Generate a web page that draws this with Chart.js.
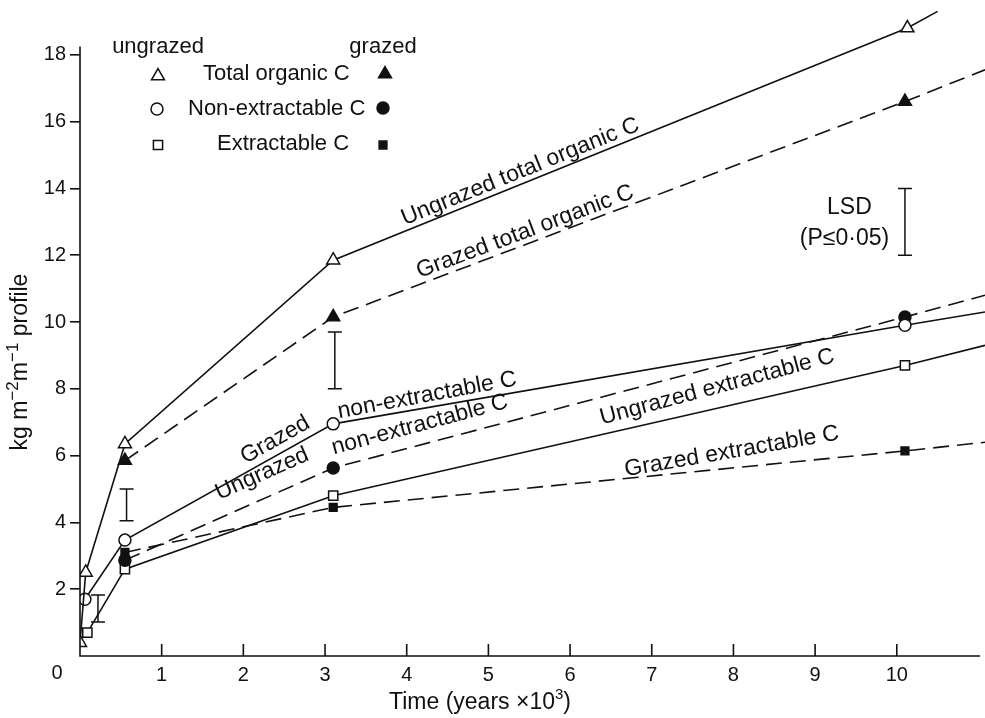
<!DOCTYPE html>
<html>
<head>
<meta charset="utf-8">
<script src="https://cdn.jsdelivr.net/npm/chart.js@4.4.1/dist/chart.umd.min.js"></script>
<style>
  html, body { margin: 0; padding: 0; background: #fff; }
  #wrap { width: 985px; height: 718px; position: relative; }
</style>
</head>
<body>
<div id="wrap"><canvas id="grafico"></canvas></div>
<script>
// tempo em milhares de anos, carbono em kg m-2 m-1 de perfil
var ungrazedTotalX = [0, 0.07, 0.55, 3.1, 10.13, 10.5];
var ungrazedTotalY = [0.4, 2.5, 6.35, 11.85, 18.8, 19.3];
var grazedTotalX = [0.55, 3.1, 10.1, 11.08];
var grazedTotalY = [5.85, 10.15, 16.6, 17.55];

var ungrazedNonExtX = [0.06, 0.55, 3.1, 10.1, 11.08];
var ungrazedNonExtY = [1.7, 3.47, 6.95, 9.9, 10.3];
var grazedNonExtX = [0.55, 3.1, 10.1, 11.08];
var grazedNonExtY = [2.87, 5.63, 10.15, 10.8];

var ungrazedExtX = [0.09, 0.55, 3.1, 10.1, 11.08];
var ungrazedExtY = [0.7, 2.6, 4.8, 8.7, 9.3];
var grazedExtX = [0.55, 3.1, 10.1, 11.08];
var grazedExtY = [3.1, 4.45, 6.14, 6.4];

// barras LSD (P <= 0.05)
var lsdX = [0.22, 0.57, 3.12, 10.1];
var lsdLow = [1.02, 4.05, 8.0, 12.0];
var lsdHigh = [1.83, 5.0, 9.7, 14.0];

var xTicks = [1, 2, 3, 4, 5, 6, 7, 8, 9, 10];
var yTicks = [2, 4, 6, 8, 10, 12, 14, 16, 18];

const FONT = '"Liberation Sans", Arial, sans-serif';
const INK = '#111';

function pontos(xs, ys) {
    return xs.map(function (x, i) { return { x: x, y: ys[i] }; });
}

// o ultimo ponto so prolonga a linha, sem marcador
function raios(n, r, ultimoSemMarca) {
    let arr = [];
    for (let i = 0; i < n; i++) arr.push(r);
    if (ultimoSemMarca) arr[n - 1] = 0;
    return arr;
}

function serie(label, xs, ys, estilo, r, cheio, tracejado) {
    return {
        label: label,
        data: pontos(xs, ys),
        borderColor: INK,
        borderWidth: 1.6,
        borderDash: tracejado ? [16, 8] : [],
        pointStyle: estilo,
        pointRadius: raios(xs.length, r, true),
        pointBackgroundColor: cheio ? INK : '#fff',
        pointBorderColor: INK,
        pointBorderWidth: 1.5,
        tension: 0,
        fill: false
    };
}

const rotulos = [
    { t: 'Ungrazed total organic C', x: 5.39, y: 14.5, rot: -22 },
    { t: 'Grazed total organic C', x: 5.45, y: 12.7, rot: -20.5 },
    { t: 'Grazed', x: 2.39, y: 6.47, rot: -29.5 },
    { t: 'non-extractable C', x: 4.25, y: 7.8, rot: -10.5 },
    { t: 'Ungrazed', x: 2.23, y: 5.45, rot: -24 },
    { t: 'non-extractable C', x: 4.16, y: 6.92, rot: -15 },
    { t: 'Ungrazed extractable C', x: 7.8, y: 8.05, rot: -15 },
    { t: 'Grazed extractable C', x: 7.98, y: 6.12, rot: -9.8 },
    { t: 'LSD', x: 9.42, y: 13.41, rot: 0 },
    { t: '(P\u22640\u00b705)', x: 9.36, y: 12.5, rot: 0 }
];

// texto com expoentes, desenhado a partir do centro
function textoRico(ctx, partes, tam, sup) {
    let total = 0;
    partes.forEach(function (p) {
        ctx.font = (p.s ? sup : tam) + 'px ' + FONT;
        p.w = ctx.measureText(p.t).width;
        total += p.w;
    });
    let x = -total / 2;
    ctx.textAlign = 'left';
    partes.forEach(function (p) {
        ctx.font = (p.s ? sup : tam) + 'px ' + FONT;
        ctx.fillText(p.t, x, p.s ? -tam * 0.35 : 0);
        x += p.w;
    });
    ctx.textAlign = 'center';
}

const decor = {
    id: 'decor',
    afterDraw(chart) {
        const ctx = chart.ctx;
        const xs = chart.scales.x, ys = chart.scales.y;
        const x0 = xs.getPixelForValue(0), y0 = ys.getPixelForValue(0);
        ctx.save();
        ctx.strokeStyle = INK;
        ctx.fillStyle = INK;
        ctx.lineWidth = 1.6;

        // eixos
        ctx.beginPath();
        ctx.moveTo(x0, ys.getPixelForValue(18.25));
        ctx.lineTo(x0, y0);
        ctx.lineTo(xs.getPixelForValue(11.02), y0);
        xs.ticks.forEach(function (t) {
            const px = xs.getPixelForValue(t.value);
            ctx.moveTo(px, y0);
            ctx.lineTo(px, y0 - 12);
        });
        ctx.stroke();

        // barras LSD
        ctx.lineWidth = 1.5;
        ctx.beginPath();
        lsdX.forEach(function (v, i) {
            const px = xs.getPixelForValue(v);
            const a = ys.getPixelForValue(lsdLow[i]), b = ys.getPixelForValue(lsdHigh[i]);
            ctx.moveTo(px, a); ctx.lineTo(px, b);
            ctx.moveTo(px - 7, a); ctx.lineTo(px + 7, a);
            ctx.moveTo(px - 7, b); ctx.lineTo(px + 7, b);
        });
        ctx.stroke();

        // textos ao longo das linhas
        ctx.font = '23px ' + FONT;
        ctx.textAlign = 'center';
        ctx.textBaseline = 'middle';
        rotulos.forEach(function (r) {
            ctx.save();
            ctx.translate(xs.getPixelForValue(r.x), ys.getPixelForValue(r.y));
            ctx.rotate(r.rot * Math.PI / 180);
            ctx.fillText(r.t, 0, 0);
            ctx.restore();
        });

        // "0" do canto
        ctx.font = '20px ' + FONT;
        ctx.fillText('0', 57, 673);

        // titulos dos eixos
        ctx.save();
        ctx.translate(480, 703);
        textoRico(ctx, [{ t: 'Time (years \u00d710' }, { t: '3', s: true }, { t: ')' }], 23, 15);
        ctx.restore();
        ctx.save();
        ctx.translate(21, 362);
        ctx.rotate(-Math.PI / 2);
        textoRico(ctx, [{ t: 'kg m' }, { t: '\u22122', s: true }, { t: 'm' }, { t: '\u22121', s: true }, { t: ' profile' }], 23, 17);
        ctx.restore();

        // legenda
        ctx.font = '22px ' + FONT;
        ctx.fillText('ungrazed', 158, 47);
        ctx.fillText('grazed', 383, 47);
        ctx.textAlign = 'left';
        ctx.fillText('Total organic C', 203, 74);
        ctx.fillText('Non-extractable C', 188, 109);
        ctx.fillText('Extractable C', 217, 144);
        const marcas = [
            ['triangle', 158, 76, false, 7.5], ['triangle', 385, 74, true, 7.5],
            ['circle', 157, 109, false, 6], ['circle', 383, 108, true, 6],
            ['rect', 158, 145, false, 6.5], ['rect', 383, 145, true, 5.5]
        ];
        ctx.lineWidth = 1.5;
        marcas.forEach(function (m) {
            ctx.fillStyle = m[3] ? INK : '#fff';
            Chart.helpers.drawPoint(ctx, { pointStyle: m[0], radius: m[4], rotation: 0, borderWidth: 1.5 }, m[1], m[2]);
        });
        ctx.restore();
    }
};

const chart = new Chart(document.getElementById('grafico').getContext('2d'), {
    type: 'line',
    data: {
        datasets: [
            serie('Ungrazed total organic C', ungrazedTotalX, ungrazedTotalY, 'triangle', 7.5, false, false),
            serie('Grazed total organic C', grazedTotalX, grazedTotalY, 'triangle', 7.5, true, true),
            serie('Ungrazed non-extractable C', ungrazedNonExtX, ungrazedNonExtY, 'circle', 6, false, false),
            serie('Grazed non-extractable C', grazedNonExtX, grazedNonExtY, 'circle', 6, true, true),
            serie('Ungrazed extractable C', ungrazedExtX, ungrazedExtY, 'rect', 6.5, false, false),
            serie('Grazed extractable C', grazedExtX, grazedExtY, 'rect', 5.5, true, true)
        ]
    },
    options: {
        responsive: true,
        maintainAspectRatio: false,
        animation: false,
        layout: { padding: 0, autoPadding: false },
        plugins: { legend: { display: false }, tooltip: { enabled: false } },
        scales: {
            x: {
                type: 'linear',
                min: 0,
                max: 11.08,
                afterBuildTicks: function (s) { s.ticks = xTicks.map(function (v) { return { value: v }; }); },
                afterFit: function (s) { s.height = 62; s.paddingLeft = 0; s.paddingRight = 0; },
                grid: { display: false, drawTicks: false },
                border: { display: false },
                ticks: { color: INK, padding: 7, maxRotation: 0, font: { family: FONT, size: 20 } }
            },
            y: {
                min: 0,
                max: 19.64,
                afterBuildTicks: function (s) { s.ticks = yTicks.map(function (v) { return { value: v }; }); },
                afterFit: function (s) { s.width = 80; s.paddingTop = 0; s.paddingBottom = 0; },
                grid: { drawOnChartArea: false, drawTicks: true, tickLength: 10, color: INK, lineWidth: 1.6 },
                border: { display: false },
                ticks: { color: INK, padding: 4, font: { family: FONT, size: 20 } }
            }
        }
    },
    plugins: [decor]
});
</script>
</body>
</html>
